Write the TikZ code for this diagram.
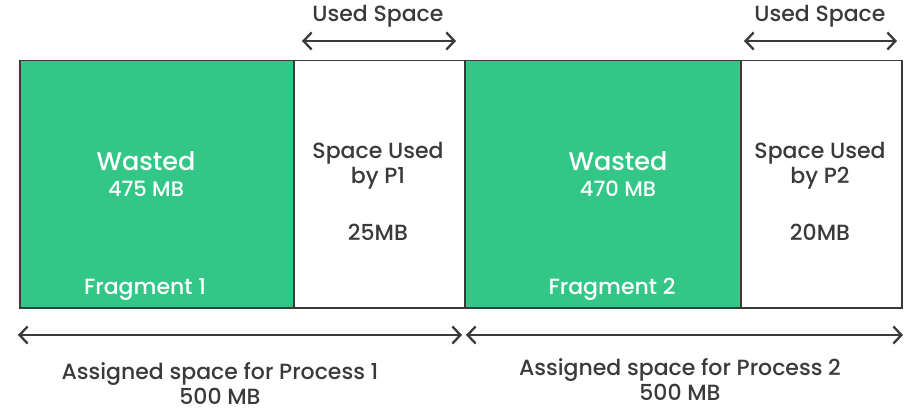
\documentclass[tikz,border=0pt]{standalone}
\usepackage{fontspec}
\setmainfont{Poppins}[UprightFont={* Medium}]
\usetikzlibrary{arrows.meta,positioning}

\definecolor{wastegreen}{HTML}{33C787}
\definecolor{inkgray}{HTML}{3A3A3A}

\begin{document}
\begin{tikzpicture}[x=1pt,y=-1pt,
  block/.style={draw=inkgray,line width=1.5pt,minimum height=247pt,anchor=north west,inner sep=0pt},
  waste/.style={block,fill=wastegreen},
  usedbox/.style={block,fill=white},
  span/.style={{Straight Barb[length=8pt,width=17pt]}-{Straight Barb[length=8pt,width=17pt]},line width=2.3pt,draw=inkgray},
  big/.style={text=white,font=\fontsize{25.5}{28}\selectfont},
  small/.style={text=white,font=\fontsize{21}{24}\selectfont},
  frag/.style={text=white,font=\fontsize{22}{25}\selectfont},
  lab/.style={text=inkgray,font=\fontsize{22}{25}\selectfont,align=center}]
\useasboundingbox (0,0) rectangle (914,412);

% memory blocks
\node[waste,minimum width=274pt] (w1) at (19,60) {};
\node[usedbox,minimum width=171pt] (u1) at (293,60) {};
\node[waste,minimum width=276pt] (w2) at (464,60) {};
\node[usedbox,minimum width=161pt] (u2) at (740,60) {};

% text in the blocks
\node[big] (wa1) at (146,161) {Wasted};
\node[small] (mb1) at (146,189) {475 MB};
\node[frag] (fr1) at (145,289) {Fragment 1};
\node[lab] (su1) at (378,166) {Space Used\\by P1};
\node[lab] (sz1) at (378,232) {25MB};

\node[big] (wa2) at (618,161) {Wasted};
\node[small] (mb2) at (618,189) {470 MB};
\node[frag] (fr2) at (612,289) {Fragment 2};
\node[lab] (su2) at (820,166) {Space Used\\by P2};
\node[lab] (sz2) at (820,232) {20MB};

% used space arrows
\coordinate (ua1) at (302,41);
\coordinate (ub1) at (456,41);
\coordinate (ua2) at (744,41);
\coordinate (ub2) at (897,41);
\draw[span] (ua1) -- (ub1);
\draw[span] (ua2) -- (ub2);
\node[lab] (us1) at (378,16) {Used Space};
\node[lab] (us2) at (820,16) {Used Space};

% assigned space arrows
\coordinate (aa1) at (18,335);
\coordinate (ab1) at (462,335);
\coordinate (aa2) at (466,335);
\coordinate (ab2) at (903,335);
\draw[span] (aa1) -- (ab1);
\draw[span] (aa2) -- (ab2);
\node[lab] (as1) at (220,384) {Assigned space for Process 1\\500 MB};
\node[lab] (as2) at (680,380) {Assigned space for Process 2\\500 MB};
\end{tikzpicture}
\end{document}
